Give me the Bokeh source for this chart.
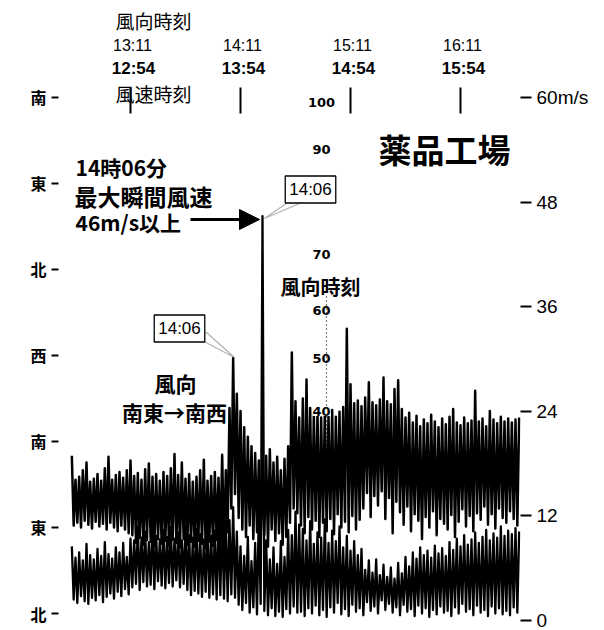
from bokeh.plotting import figure
from bokeh.models import (Range1d, LinearAxis, FixedTicker, Label, Arrow,
                          NormalHead, PolyAnnotation)
from bokeh.embed import file_html
from bokeh.resources import INLINE

# ---------------- data ----------------
# record sampled every minute (wind-speed clock), starting 12:22 (= minute 22 after 12:00)
sample_start_min = 22
sample_step_min = 1

# wind direction (degrees, 0 = 北) : alternating peaks / troughs of the pen trace
dir_peaks_deg = [165, 140, 143, 150, 158, 138, 141, 146, 139, 152, 164, 140, 145, 148, 142,
                 150, 160, 144, 147, 140, 151, 157, 143, 146, 139, 148, 144, 152, 167, 145,
                 158, 141, 146, 138, 143, 150, 161, 139, 144, 148, 142, 166, 150,
                 215, 267, 230, 212, 195, 185, 175, 168, 160, 156, 165, 172, 158, 164, 150,
                 162, 175, 273, 222, 205,
                 225, 245, 215, 208, 212, 205, 210, 207, 213, 206, 211, 216, 298, 240, 220,
                 223, 217, 226, 242, 221, 218, 224, 247, 222, 219, 235, 244, 214, 205, 210,
                 200, 207, 196, 203, 199, 208, 201, 195, 204, 198, 206, 214, 200, 197, 205,
                 199, 202, 233, 201, 204, 196, 212, 203, 199, 206, 201, 204, 200, 203, 205]
dir_troughs_deg = [92, 95, 90, 97, 93, 89, 96, 91, 94, 88, 95, 90, 86, 92, 88, 84,
                   82, 74, 79, 72, 77, 75, 70, 78, 73, 76, 71, 77, 74, 69, 78, 72, 75, 70, 76,
                   73, 68, 75, 71, 77, 72, 69,
                   85, 110, 125, 100, 88, 80, 92, 78, 85, 74, 82, 70, 88, 76, 84, 72, 80, 95, 110, 105,
                   92, 84, 101, 88, 97, 80, 95, 86, 99, 83, 104, 90, 96, 85, 102, 88, 98,
                   110, 126, 101, 123, 113, 128, 99, 121, 84, 117, 106, 93, 112, 86, 104, 97, 78, 101,
                   90, 107, 82, 99, 94, 88, 103, 80, 96, 109, 91, 102, 86, 105, 98, 112, 93, 104, 89,
                   110, 100, 95, 107, 99, 92]

# wind speed (m/s) : alternating peaks / troughs of the pen trace
speed_peaks_ms = [8.5, 7.2, 7.8, 6.9, 8.8, 7.5, 7.0, 8.2, 7.4, 9.0, 7.6, 7.1, 8.4, 7.8, 8.9,
                  7.3, 9.4,
                  9.2, 10.8, 9.5, 10.2, 9.0, 11.1, 9.7, 9.3, 10.4, 9.6, 10.7, 9.4, 10.1, 9.2,
                  10.9, 9.8, 9.5, 10.5, 9.9, 9.3, 11.0, 9.7, 10.3, 11.2, 11.8, 11.4,
                  11.5, 13.0, 10.2, 8.5, 7.4, 9.6, 6.8, 8.9, 12.4, 46.4, 9.2, 7.0, 8.4, 6.5, 9.1,
                  7.3, 10.4, 9.8, 12.5, 11.0,
                  10.5, 9.2, 11.4, 8.8, 10.1, 9.5, 11.6, 8.9, 10.3, 9.1, 10.8, 8.4, 9.7, 8.0, 9.1,
                  7.5, 8.2, 5.8, 6.9, 5.5, 7.0, 5.2, 6.4, 5.0, 6.1, 4.8, 6.6, 5.4, 7.3, 6.2,
                  7.8, 7.1, 8.4, 7.5, 8.0, 7.2, 8.6, 7.7, 8.3, 7.4, 9.0, 8.1, 9.4, 8.5, 9.8,
                  8.7, 9.3, 10.1, 8.9, 9.6, 10.4, 9.2, 10.0, 9.5, 10.8, 9.7, 10.3, 9.9, 10.6, 10.2]
speed_troughs_ms = [2.4, 2.0, 2.8, 2.2, 1.9, 2.6, 2.3, 2.9, 2.1, 2.7, 3.1, 2.5, 3.3, 2.8, 3.6,
                    3.0, 3.8, 4.2, 3.5, 4.4, 3.9, 4.1, 3.6, 4.5, 4.0, 3.7, 4.3, 3.9, 4.6, 3.8,
                    4.2, 3.5, 2.9, 3.4, 3.1, 2.7, 3.3, 2.6, 3.0, 2.4, 2.9, 2.5,
                    2.2, 3.0, 2.6, 1.8, 1.2, 2.0, 0.9, 1.5, 0.7, 1.9, 1.1, 0.6, 1.4, 0.5, 1.0,
                    0.4, 1.3, 0.8, 1.6, 0.9,
                    1.0, 0.5, 1.4, 0.8, 1.7, 0.6, 1.2, 0.4, 1.5, 0.9, 2.0, 0.7, 1.3, 0.5, 1.8,
                    1.0, 1.4, 0.6, 2.1, 1.1, 1.6, 0.8, 2.3, 1.2, 1.9, 0.9, 1.5, 0.6, 1.8, 1.0,
                    1.3, 0.5, 1.7, 0.8, 1.4, 0.4, 1.2, 0.7, 1.6, 0.9, 1.1, 0.5, 1.5, 0.8, 1.9,
                    1.0, 1.3, 0.6, 1.7, 0.9, 1.2, 0.5, 1.6, 0.8, 1.4, 0.7, 1.1, 0.6, 1.5, 0.9]

dir_ticks = [0, 90, 180, 270, 360, 450, 540]
dir_tick_labels = ["北", "東", "南", "西", "北", "東", "南"]
speed_ticks = [0, 12, 24, 36, 48, 60]
speed_tick_labels = ["0", "12", "24", "36", "48", "60m/s"]
time_ticks_min = [54, 114, 174, 234]            # minutes after 12:00, wind-speed clock
dir_time_labels = ["13:11", "14:11", "15:11", "16:11"]
speed_time_labels = ["12:54", "13:54", "14:54", "15:54"]
chart_scale_labels = ["100", "90", "70", "60", "50", "40"]


def zigzag(peaks, troughs):
    ts, vs = [], []
    for i, pk in enumerate(peaks):
        ts.append(sample_start_min + 2 * i * sample_step_min)
        vs.append(pk)
        if i < len(troughs):
            ts.append(sample_start_min + (2 * i + 1) * sample_step_min)
            vs.append(troughs[i])
    return ts, vs


# ---------------- layout helpers (page pixel -> data) ----------------
PX_PER_MIN = 110 / 60.0
PX_PER_MS = 8.717
PX_PER_DEG = 0.9556
W, H = 604, 630
FRAME_L, FRAME_R = 58, 520


def tx(px):
    return 54 + (px - 130) / PX_PER_MIN


def vy(py):
    return (620 - py) / PX_PER_MS


JP = "Noto Sans CJK JP"
LAT = "Liberation Sans"

p = figure(width=W, height=H, output_backend="svg", toolbar_location=None,
           x_range=Range1d(tx(FRAME_L), tx(FRAME_R)), y_range=Range1d(vy(H), vy(0)),
           x_axis_location=None, y_axis_location=None,
           min_border_left=FRAME_L, min_border_right=W - FRAME_R,
           min_border_top=0, min_border_bottom=0)
p.extra_y_ranges = {"dir": Range1d((613 - H) / PX_PER_DEG, 613 / PX_PER_DEG)}
p.grid.visible = False
p.outline_line_color = None
p.background_fill_color = "white"
p.border_fill_color = "white"

# traces
dt, dv = zigzag(dir_peaks_deg, dir_troughs_deg)
st, sv = zigzag(speed_peaks_ms, speed_troughs_ms)
p.line(dt, dv, y_range_name="dir", line_color="black", line_width=2.5, line_join="round")
p.line(st, sv, line_color="black", line_width=2.3, line_join="round")

# axes
left = LinearAxis(y_range_name="dir", ticker=FixedTicker(ticks=dir_ticks),
                  major_label_overrides={t: l for t, l in zip(dir_ticks, dir_tick_labels)})
left.axis_line_color = None
left.major_tick_out = 7
left.major_tick_in = 0
left.major_tick_line_width = 2
left.minor_tick_line_color = None
left.major_label_standoff = 5
left.major_label_text_font = JP
left.major_label_text_font_size = "16px"
left.major_label_text_font_style = "bold"
left.major_label_text_color = "black"
p.add_layout(left, "left")

right = LinearAxis(ticker=FixedTicker(ticks=speed_ticks),
                   major_label_overrides={t: l for t, l in zip(speed_ticks, speed_tick_labels)})
right.axis_line_color = None
right.major_tick_out = 11
right.major_tick_in = 0
right.major_tick_line_width = 2
right.minor_tick_line_color = None
right.major_label_standoff = 5
right.major_label_text_font = LAT
right.major_label_text_font_size = "19px"
right.major_label_text_color = "black"
p.add_layout(right, "right")

# time tick marks at top
p.segment(x0=time_ticks_min, y0=[vy(113)] * 4, x1=time_ticks_min, y1=[vy(87)] * 4,
          line_color="black", line_width=2)


def label(text, px, py, size, font=JP, style="normal", align="center", **kw):
    p.add_layout(Label(x=tx(px), y=vy(py), text=text, text_font=font,
                       text_font_size=f"{size}px", text_font_style=style,
                       text_align=align, text_baseline="middle", text_color="black", **kw))


label("風向時刻", 153, 20, 19)
label("風向", 32, 48, 19)
label("風速", 546, 49, 19)
label("風速時刻", 153, 93, 19)
for t, a, b in zip(time_ticks_min, dir_time_labels, speed_time_labels):
    x = 130 + (t - 54) * PX_PER_MIN + 2
    label(a, x, 45, 16, font=LAT)
    label(b, x + 1, 68, 17, font=LAT, style="bold")

# paper chart scale
p.segment(x0=[tx(326)], y0=[vy(296)], x1=[tx(326)], y1=[vy(480)],
          line_color="black", line_width=1.2, line_dash="1 3")
for txt, py in zip(chart_scale_labels, [102, 149, 254, 310, 358, 411]):
    label(txt, 321, py, 13, font="DejaVu Sans", style="bold",
          background_fill_color="white" if txt == "40" else None)

label("薬品工場", 444, 148, 33, style="bold")
label("14時06分", 75, 166, 21, style="bold", align="left")
label("最大瞬間風速", 74, 195, 23, style="bold", align="left")
label("46m/s以上", 75, 221, 21, style="bold", align="left")
p.add_layout(Arrow(end=NormalHead(size=20, fill_color="black", line_color="black"),
                   x_start=tx(190), y_start=vy(219), x_end=tx(259), y_end=vy(219),
                   line_width=3, line_color="black"))

label("風向時刻", 320, 286, 20, style="bold")
label("風向", 175, 382, 21, style="bold")
label("南東→南西", 174, 411, 21, style="bold")

# callouts
p.add_layout(PolyAnnotation(xs=[tx(290), tx(306), tx(264)], ys=[vy(200), vy(200), vy(218)],
                            fill_color="white", fill_alpha=1, line_color="black", line_width=1.3))
label("14:06", 310, 189, 17, font=LAT, border_line_color="black", border_line_width=1.3,
      background_fill_color="white", padding=4)
p.add_layout(PolyAnnotation(xs=[tx(194), tx(206), tx(234)], ys=[vy(336), vy(332), vy(357)],
                            fill_color="white", fill_alpha=1, line_color="black", line_width=1.3))
label("14:06", 179, 328, 17, font=LAT, border_line_color="black", border_line_width=1.3,
      background_fill_color="white", padding=4)

open("out.html", "w").write(file_html(p, INLINE))
